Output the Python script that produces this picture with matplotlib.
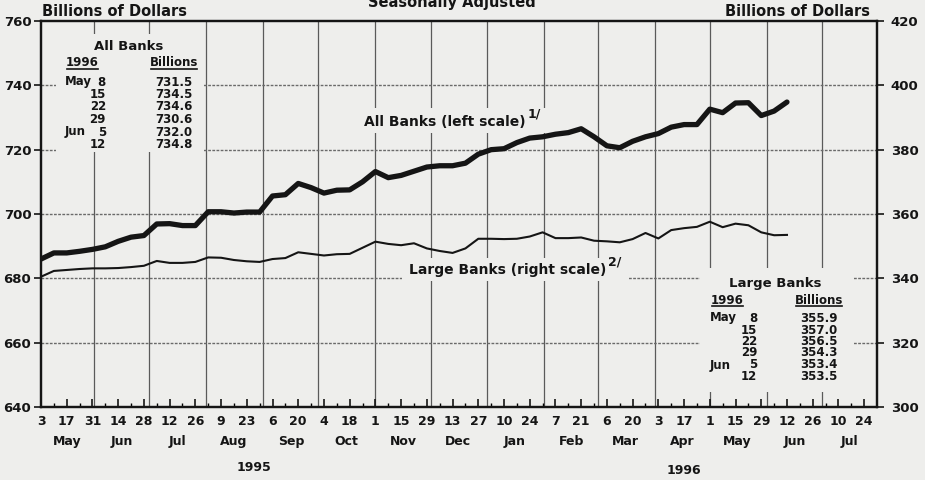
import numpy as np
import pandas as pd
import matplotlib
matplotlib.use("Agg")
import matplotlib.pyplot as plt
import matplotlib.dates as mdates
import matplotlib.transforms as mtransforms
from matplotlib.patches import Rectangle

# weekly data, Wednesdays, May 3 1995 - Jun 12 1996
weeks = pd.date_range("1995-05-03", "1996-06-12", freq="7D")

all_banks = [686.0, 687.9, 687.9, 688.4, 689.0, 689.8, 691.5, 692.8, 693.3, 696.9,
             697.0, 696.4, 696.4, 700.7, 700.7, 700.3, 700.6, 700.6, 705.6, 706.0,
             709.5, 708.2, 706.5, 707.4, 707.5, 710.0, 713.2, 711.3, 712.0, 713.3,
             714.6, 715.0, 715.0, 715.8, 718.6, 720.0, 720.3, 722.2, 723.6, 724.0,
             724.8, 725.3, 726.5, 724.0, 721.2, 720.6, 722.6, 724.0, 725.0, 727.0,
             727.8, 727.8, 732.6, 731.5, 734.5, 734.6, 730.6, 732.0, 734.8]

large_banks = [340.5, 342.3, 342.6, 342.9, 343.1, 343.1, 343.2, 343.5, 343.9, 345.4,
               344.8, 344.8, 345.1, 346.5, 346.4, 345.7, 345.3, 345.1, 346.0, 346.3,
               348.1, 347.6, 347.1, 347.5, 347.6, 349.5, 351.4, 350.7, 350.3, 350.9,
               349.3, 348.5, 347.9, 349.3, 352.3, 352.3, 352.2, 352.3, 353.0, 354.3,
               352.5, 352.5, 352.7, 351.7, 351.5, 351.2, 352.2, 354.1, 352.4, 355.0,
               355.6, 356.0, 357.6, 355.9, 357.0, 356.5, 354.3, 353.4, 353.5]

# inset tables
table_months = ["May", "", "", "", "Jun", ""]
table_days = ["8", "15", "22", "29", "5", "12"]
all_table = ["731.5", "734.5", "734.6", "730.6", "732.0", "734.8"]
large_table = ["355.9", "357.0", "356.5", "354.3", "353.4", "353.5"]

month_names = ["May", "Jun", "Jul", "Aug", "Sep", "Oct", "Nov", "Dec",
               "Jan", "Feb", "Mar", "Apr", "May", "Jun", "Jul"]

bg = "#eeeeec"
ink = "#151515"
W, H = 925, 480

plt.rcParams["font.family"] = ["DejaVu Sans"]
plt.rcParams["font.weight"] = "bold"


def fx(px):
    return px / W


def fy(py):
    return 1 - py / H


fig = plt.figure(figsize=(9.25, 4.8), dpi=100, facecolor=bg)
ax = fig.add_axes([fx(41), fy(407), 836 / W, 386 / H])
ax.set_facecolor(bg)

x = mdates.date2num(weeks)
x0 = mdates.date2num(pd.Timestamp("1995-05-03"))
x1 = mdates.date2num(pd.Timestamp("1996-07-31"))

# grid: month starts and 20-unit levels
month_starts = mdates.date2num(pd.date_range("1995-06-01", "1996-07-01", freq="MS"))
ax.vlines(month_starts, 640, 760, color="#5a5a5a", lw=0.9, zorder=1)
ax.hlines(range(660, 760, 20), x0, x1, color="#6a6a6a", lw=1.0,
          linestyles=(0, (2, 1)), zorder=1)

ax.plot(x, all_banks, color=ink, lw=3.8, solid_joinstyle="round",
        solid_capstyle="round", zorder=4)
ax.set_xlim(x0, x1)
ax.set_ylim(640, 760)
ax.set_yticks(range(640, 761, 20))

ax2 = ax.twinx()
ax2.plot(x, large_banks, color=ink, lw=1.5, zorder=4)
ax2.set_ylim(300, 420)
ax2.set_yticks(range(300, 421, 20))

major = pd.date_range("1995-05-03", "1996-07-24", freq="14D")
ax.set_xticks(mdates.date2num(major), [str(d.day) for d in major])
ax.set_xticks(mdates.date2num(pd.date_range("1995-05-03", "1996-07-24", freq="7D")),
              minor=True)
ax.tick_params(axis="x", which="major", direction="in", length=6, width=1.2,
               pad=6, labelsize=9, colors=ink)
ax.tick_params(axis="x", which="minor", direction="in", length=3, width=1.0)
ax.tick_params(axis="y", direction="out", length=5, width=1.2, pad=2,
               labelsize=9.5, colors=ink)
ax2.tick_params(axis="y", direction="out", length=5, width=1.2, pad=5,
                labelsize=9.5, colors=ink)
for a in (ax, ax2):
    for s in a.spines.values():
        s.set_linewidth(1.6)
        s.set_color(ink)

# month and year labels under the axis
trans = mtransforms.blended_transform_factory(ax.transData, ax.transAxes)
mids = pd.date_range("1995-05-01", "1996-07-01", freq="MS") + pd.Timedelta(days=15)
mids = mids.insert(0, pd.Timestamp("1995-05-17")).delete(1)
for d, name in zip(mids, month_names):
    ax.text(mdates.date2num(d), -0.09, name, transform=trans, ha="center",
            va="center", fontsize=9, color=ink)
ax.text(mdates.date2num(pd.Timestamp("1995-08-27")), -0.158, "1995", transform=trans,
        ha="center", va="center", fontsize=9, color=ink)
ax.text(mdates.date2num(pd.Timestamp("1996-04-17")), -0.165, "1996", transform=trans,
        ha="center", va="center", fontsize=9, color=ink)

# headings (the title is cut by the top edge in the scan)
fig.text(fx(452), fy(3), "Seasonally Adjusted", ha="center", va="center",
         fontsize=10.5, color=ink)
fig.text(fx(42), fy(12), "Billions of Dollars", ha="left", va="center",
         fontsize=10.5, color=ink)
fig.text(fx(870), fy(12), "Billions of Dollars", ha="right", va="center",
         fontsize=10.5, color=ink)


def blank(px0, py0, px1, py1):
    ax.add_patch(Rectangle((fx(px0), fy(py1)), fx(px1) - fx(px0), fy(py0) - fy(py1),
                           transform=fig.transFigure, facecolor=bg,
                           edgecolor="none", zorder=2))


def txt(px, py, s, ha="center", size=8.5):
    ax.text(fx(px), fy(py), s, transform=fig.transFigure, ha=ha, va="center",
            fontsize=size, color=ink, zorder=5)


def underline(px0, px1, py):
    ax.plot([fx(px0), fx(px1)], [fy(py), fy(py)], transform=fig.transFigure,
            color=ink, lw=1.2, zorder=5, clip_on=False)


def table(title, tx, ty, left, day_x, val_x, values, rows_y):
    txt(tx, ty, title, size=9.5)
    txt(left + 17, ty + 16, "1996", size=8.5)
    underline(left + 2, left + 33, ty + 22)
    txt(val_x, ty + 16, "Billions", size=8.5)
    underline(val_x - 23, val_x + 23, ty + 22)
    for m, d, v, ry in zip(table_months, table_days, values, rows_y):
        if m:
            txt(left, ry, m, ha="left", size=8.5)
        txt(day_x, ry, d, ha="right", size=8.5)
        txt(val_x, ry, v, size=8.5)


blank(56, 34, 204, 152)
table("All Banks", 129, 47, 65, 106, 174, all_table,
      [82, 94.5, 107, 119.5, 132, 144.5])

blank(700, 268, 853, 392)
table("Large Banks", 775, 284, 710, 757, 819, large_table,
      [318, 330, 341.5, 353, 365, 377])

# series labels
blank(355, 108, 546, 133)
txt(526, 122, "All Banks (left scale)", ha="right", size=10)
txt(528, 114, "1/", ha="left", size=9)
blank(402, 258, 628, 281)
txt(606, 270, "Large Banks (right scale)", ha="right", size=10)
txt(608, 262, "2/", ha="left", size=9)

fig.savefig("out.png", dpi=100, facecolor=bg)
